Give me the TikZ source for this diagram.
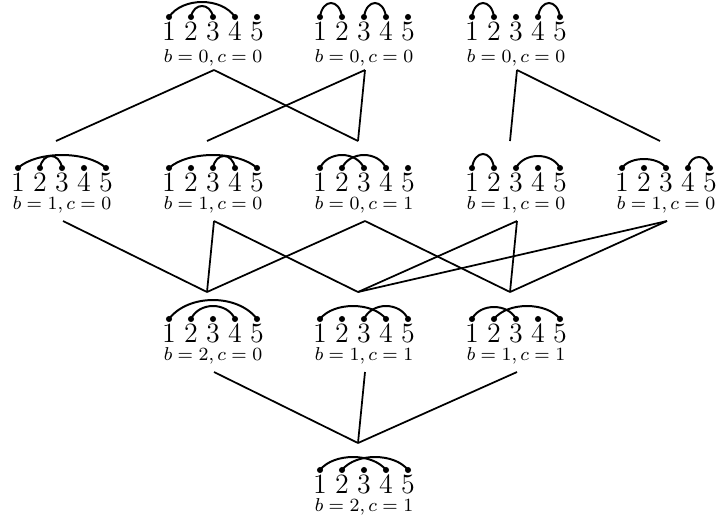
\documentclass[tikz,border=0pt]{standalone}
\tikzset{
  dotfill/.style={fill=black},
  arcline/.style={line width=0.85pt},
  conn/.style={line width=0.75pt},
  digit/.style={font=\large, inner sep=0pt, anchor=base},
  lab/.style={font=\footnotesize, inner sep=0pt, anchor=base},
}
\newcommand\mydiag[6]{%
  \foreach \i in {1,...,5}{
    \fill[dotfill] ({#2+22*\i-66},#3) circle[radius=1.3pt];
    \node[digit] (#1-\i) at ({#2+22*\i-66},{#3+23}) {\i};
  }
  \foreach \a/\b/\h in {#4}{
    \pgfmathsetmacro\cc{5.5*(\b-\a)-3}
    \draw[arcline] ({#2+22*\a-66},#3) .. controls +(\cc,{-1.333*\h}) and +(-\cc,{-1.333*\h}) .. ({#2+22*\b-66},#3);
  }
  \node[lab] (#1) at (#2,{#3+#6}) {$#5$};
  \coordinate (#1t) at ({#2-6},{#3-27});
  \coordinate (#1b) at ({#2+1},{#3+53});
}
\begin{document}
\begin{tikzpicture}[x=0.4292pt,y=-0.4292pt]
\useasboundingbox (0,0) rectangle (723,529);
\mydiag{A1}{213}{17}{1/4/15,2/3/11}{b=0,c=0}{45}
\mydiag{A2}{364}{17}{1/2/14,3/4/14}{b=0,c=0}{45}
\mydiag{A3}{516}{17}{1/2/14,4/5/14}{b=0,c=0}{45}
\mydiag{B1}{62}{168}{1/5/13,2/3/12}{b=1,c=0}{41}
\mydiag{B2}{213}{168}{1/5/13,3/4/12}{b=1,c=0}{41}
\mydiag{B3}{364}{168}{1/3/13,2/4/13}{b=0,c=1}{41}
\mydiag{B4}{516}{168}{1/2/14,3/5/12}{b=1,c=0}{41}
\mydiag{B5}{666}{168}{1/3/9,4/5/11}{b=1,c=0}{41}
\mydiag{C1}{213}{319}{1/5/19,2/4/13}{b=2,c=0}{41}
\mydiag{C2}{364}{319}{1/4/13,3/5/13}{b=1,c=1}{41}
\mydiag{C3}{516}{319}{1/3/12,2/5/13}{b=1,c=1}{41}
\mydiag{D}{364}{470}{1/4/13,2/5/13}{b=2,c=1}{41}
\draw[conn] (A1b) -- (B1t);
\draw[conn] (A1b) -- (B3t);
\draw[conn] (A2b) -- (B2t);
\draw[conn] (A2b) -- (B3t);
\draw[conn] (A3b) -- (B4t);
\draw[conn] (A3b) -- (B5t);
\draw[conn] (B1b) -- (C1t);
\draw[conn] (B2b) -- (C1t);
\draw[conn] (B2b) -- (C2t);
\draw[conn] (B3b) -- (C1t);
\draw[conn] (B3b) -- (C3t);
\draw[conn] (B4b) -- (C2t);
\draw[conn] (B4b) -- (C3t);
\draw[conn] (B5b) -- (C2t);
\draw[conn] (B5b) -- (C3t);
\draw[conn] (C1b) -- (Dt);
\draw[conn] (C2b) -- (Dt);
\draw[conn] (C3b) -- (Dt);
\end{tikzpicture}
\end{document}
